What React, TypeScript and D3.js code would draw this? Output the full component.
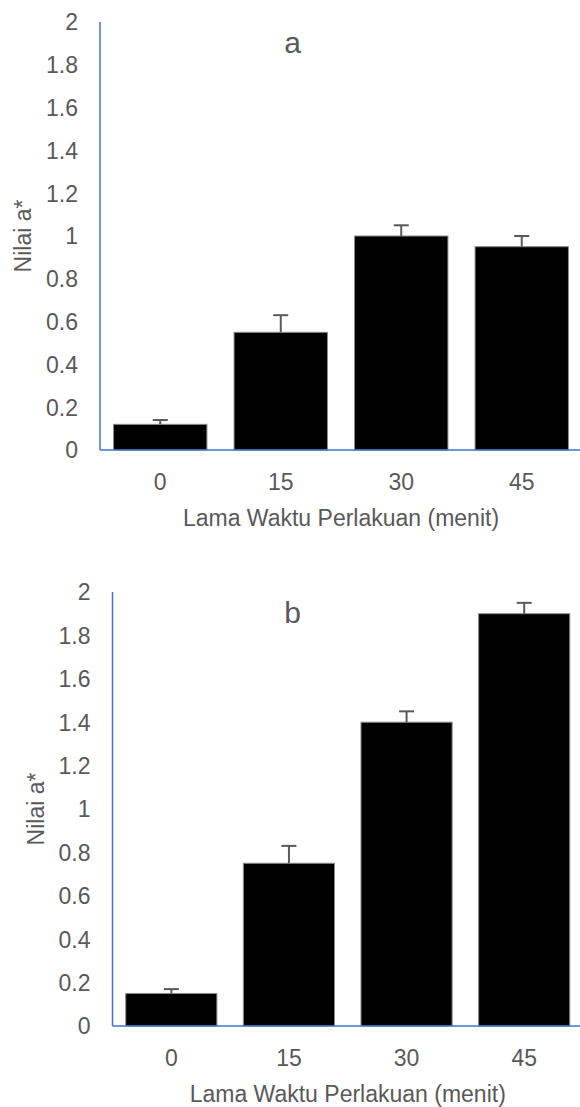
import * as d3 from 'd3'
import { useEffect, useRef } from 'react'

// waktu perlakuan (menit)
const categories = ['0', '15', '30', '45']

// panel a
const valuesA = [0.12, 0.55, 1.0, 0.95]
const errorsA = [0.02, 0.08, 0.05, 0.05]

// panel b
const valuesB = [0.15, 0.75, 1.4, 1.9]
const errorsB = [0.02, 0.08, 0.05, 0.05]

const yTicks = [0, 0.2, 0.4, 0.6, 0.8, 1, 1.2, 1.4, 1.6, 1.8, 2]

const xTitle = 'Lama Waktu Perlakuan (menit)'
const yTitle = 'Nilai a*'

const FONT = '"Liberation Sans", Arial, Helvetica, sans-serif'
const TEXT = '#595959'
const AXIS = '#4472C4'

export default function App() {
    const ref = useRef(null)

    useEffect(() => {
        const svg = d3.select(ref.current)
        svg.selectAll('*').remove()

        const panels = [
            { label: 'a', values: valuesA, errors: errorsA, left: 100, right: 582, top: 22, bottom: 450 },
            { label: 'b', values: valuesB, errors: errorsB, left: 112.5, right: 583, top: 592, bottom: 1026 },
        ]

        panels.forEach((p) => {
            const g = svg.append('g')

            const x = d3
                .scaleBand()
                .domain(categories)
                .range([p.left, p.right])
                .paddingInner(0.225)
                .paddingOuter(0.1125)

            const y = d3.scaleLinear().domain([0, 2]).range([p.bottom, p.top])

            // bars
            g.selectAll('.bar')
                .data(p.values)
                .join('rect')
                .attr('class', 'bar')
                .attr('x', (d, i) => x(categories[i]))
                .attr('width', x.bandwidth())
                .attr('y', (d) => y(d))
                .attr('height', (d) => y(0) - y(d))
                .attr('fill', '#000')
                .attr('stroke', '#8c8c8c')
                .attr('stroke-width', 1)

            // error bars (upper only)
            const err = g.append('g').attr('stroke', TEXT).attr('stroke-width', 2).attr('fill', 'none')
            p.values.forEach((v, i) => {
                const cx = x(categories[i]) + x.bandwidth() / 2
                const top = y(v + p.errors[i])
                err.append('line').attr('x1', cx).attr('x2', cx).attr('y1', y(v)).attr('y2', top)
                err.append('line').attr('x1', cx - 7.5).attr('x2', cx + 7.5).attr('y1', top).attr('y2', top)
            })

            // axes lines
            g.append('line')
                .attr('x1', p.left).attr('x2', p.left)
                .attr('y1', y(2)).attr('y2', y(0))
                .attr('stroke', AXIS).attr('stroke-width', 1.5)
            g.append('line')
                .attr('x1', p.left).attr('x2', 580)
                .attr('y1', y(0)).attr('y2', y(0))
                .attr('stroke', AXIS).attr('stroke-width', 1.5)

            // y tick labels
            g.selectAll('.ytick')
                .data(yTicks)
                .join('text')
                .attr('class', 'ytick')
                .attr('x', p.left - 22)
                .attr('y', (d) => y(d) + 8.3)
                .attr('text-anchor', 'end')
                .attr('font-family', FONT)
                .attr('font-size', 23)
                .attr('fill', TEXT)
                .text((d) => String(+d.toFixed(1)))

            // x tick labels
            g.selectAll('.xtick')
                .data(categories)
                .join('text')
                .attr('class', 'xtick')
                .attr('x', (d) => x(d) + x.bandwidth() / 2)
                .attr('y', y(0) + 40)
                .attr('text-anchor', 'middle')
                .attr('font-family', FONT)
                .attr('font-size', 23)
                .attr('fill', TEXT)
                .text((d) => d)

            // x title
            g.append('text')
                .attr('x', (p.left + p.right) / 2)
                .attr('y', y(0) + 76)
                .attr('text-anchor', 'middle')
                .attr('font-family', FONT)
                .attr('font-size', 23)
                .attr('fill', TEXT)
                .text(xTitle)

            // y title
            const ty = (p.top + p.bottom) / 2
            g.append('text')
                .attr('transform', `translate(${p.left - 69},${ty}) rotate(-90)`)
                .attr('text-anchor', 'middle')
                .attr('font-family', FONT)
                .attr('font-size', 23)
                .attr('fill', TEXT)
                .text(yTitle)

            // panel label
            g.append('text')
                .attr('x', 292.5)
                .attr('y', p.top + 31)
                .attr('text-anchor', 'middle')
                .attr('font-family', FONT)
                .attr('font-size', 30)
                .attr('fill', TEXT)
                .text(p.label)
        })
    }, [])

    return (
        <svg
            ref={ref}
            width={580}
            height={1107}
            style={{ position: 'absolute', left: 0, top: 0, background: '#fff' }}
        />
    )
}
